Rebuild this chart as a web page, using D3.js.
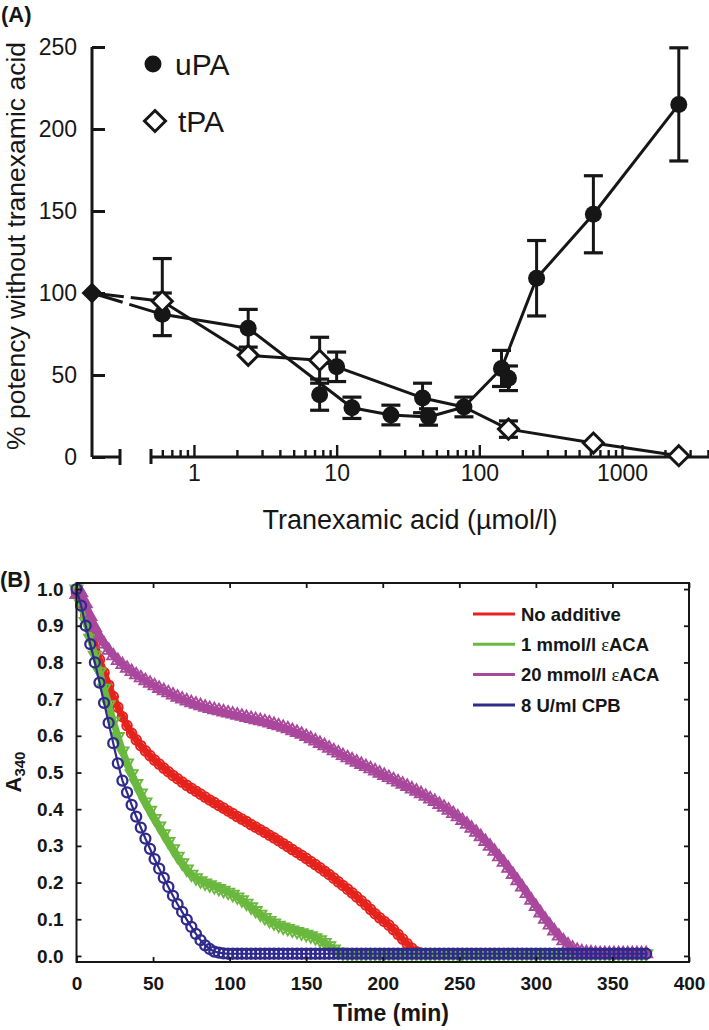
<!DOCTYPE html>
<html><head><meta charset="utf-8">
<script src="https://cdn.jsdelivr.net/npm/d3@7/dist/d3.min.js"></script>
<style>body{margin:0;background:#fff}svg{display:block}</style>
</head><body>
<svg id="c" width="709" height="1030"></svg>
<script>
// ---------------- Panel A data ----------------
const controlConc = 0;          // no tranexamic acid (left stub of broken axis)
const controlVal = 100;
const uPAConc = [0.6, 2.4, 7.6, 10, 12.8, 24, 40, 44, 78, 143, 160, 252, 630, 2500];
const uPAMean = [87, 78.5, 38, 55, 30, 25.6, 36, 24.4, 30.5, 54, 48, 109, 148, 215];
const uPAErr  = [13, 11.5, 9.5, 9, 6.5, 6, 9, 5, 6, 11, 7.5, 23, 23.5, 34.5];
const uPALineConc = [0.6, 2.4, 12.8, 24, 44, 78, 143, 252, 630, 2500];
const uPALineVal  = [87, 78.5, 30, 25.6, 24.4, 30.5, 54, 109, 148, 215];
const tPAConc = [0.6, 2.4, 7.6, 160, 630, 2500];
const tPAMean = [95, 62, 59, 17, 8.5, 0.8];
const tPAErrUp = [26, 0, 14, 5, 0, 0];
const tPAErrDn = [0, 0, 14, 5, 0, 0];
const tPALineConc = [0.6, 2.4, 7.6, 10, 40, 78, 160, 630, 2500];
const tPALineVal  = [95, 62, 59, 55, 36, 30.5, 17, 8.5, 0.8];
const yTicksA = [0, 50, 100, 150, 200, 250];
const xMajorA = [1, 10, 100, 1000];
const xMinorA = [0.6,0.7,0.8,0.9, 2,3,4,5,6,7,8,9, 20,30,40,50,60,70,80,90, 200,300,400,500,600,700,800,900, 2000,3000,4000];

// ---------------- Panel B data ----------------
const timeMin = [0,3,6,9,12,15,18,21,24,27,30,33,36,39,42,45,48,51,54,57,60,63,66,69,72,75,78,81,84,87,90,93,96,99,102,105,108,111,114,117,120,123,126,129,132,135,138,141,144,147,150,153,156,159,162,165,168,171,174,177,180,183,186,189,192,195,198,201,204,207,210,213,216,219,222,225,228,231,234,237,240,243,246,249,252,255,258,261,264,267,270,273,276,279,282,285,288,291,294,297,300,303,306,309,312,315,318,321,324,327,330,333,336,339,342,345,348,351,354,357,360,363,366,369,372];
const noAdditive = [
0.990,0.965,0.930,0.890,0.850,0.808,0.772,0.738,0.707,0.678,
0.652,0.628,0.607,0.589,0.573,0.559,0.546,0.534,0.523,0.512,
0.502,0.492,0.483,0.474,0.465,0.457,0.449,0.441,0.433,0.425,
0.418,0.410,0.403,0.395,0.388,0.380,0.373,0.366,0.358,0.351,
0.344,0.337,0.329,0.322,0.314,0.306,0.298,0.290,0.282,0.274,
0.266,0.257,0.249,0.240,0.231,0.222,0.212,0.202,0.192,0.182,
0.172,0.161,0.150,0.139,0.127,0.115,0.104,0.094,0.084,0.072,
0.059,0.046,0.033,0.021,0.011,0.007,
0.006,0.006,0.006,0.006,0.006,0.006,0.006,0.006,0.006,0.006,
0.006,0.006,0.006,0.006,0.006,0.006,0.006,0.006,0.006,0.006,
0.006,0.006,0.006,0.006,0.006,0.006,0.006,0.006,0.006,0.006,
0.006,0.006,0.006,0.006,0.006,0.006,0.006,0.006,0.006,0.006,
0.006,0.006,0.006,0.006,0.006,0.006,0.006,0.006,0.006];
const eACA1 = [
1.000,0.960,0.912,0.866,0.820,0.775,0.730,0.685,0.640,0.598,
0.559,0.526,0.497,0.470,0.444,0.420,0.397,0.375,0.354,0.333,
0.312,0.292,0.272,0.254,0.237,0.223,0.213,0.205,0.199,0.194,
0.189,0.184,0.179,0.174,0.168,0.161,0.153,0.144,0.134,0.124,
0.114,0.105,0.097,0.090,0.084,0.079,0.075,0.071,0.067,0.063,
0.059,0.055,0.050,0.044,0.037,0.028,0.019,0.011,0.007,
0.006,0.006,0.006,0.006,0.006,0.006,0.006,0.006,0.006,0.006,
0.006,0.006,0.006,0.006,0.006,0.006,0.006,0.006,0.006,0.006,
0.006,0.006,0.006,0.006,0.006,0.006,0.006,0.006,0.006,0.006,
0.006,0.006,0.006,0.006,0.006,0.006,0.006,0.006,0.006,0.006,
0.006,0.006,0.006,0.006,0.006,0.006,0.006,0.006,0.006,0.006,
0.006,0.006,0.006,0.006,0.006,0.006,0.006,0.006,0.006,0.006,
0.006,0.006,0.006,0.006,0.006,0.006];
const eACA20 = [
0.985,0.990,0.960,0.925,0.895,0.870,0.850,0.833,0.818,0.805,
0.794,0.784,0.775,0.766,0.758,0.750,0.743,0.736,0.729,0.723,
0.717,0.711,0.705,0.700,0.695,0.690,0.686,0.682,0.678,0.674,
0.671,0.668,0.665,0.662,0.659,0.656,0.653,0.650,0.647,0.644,
0.641,0.638,0.635,0.631,0.627,0.623,0.619,0.614,0.609,0.604,
0.598,0.592,0.586,0.579,0.573,0.566,0.559,0.553,0.546,0.540,
0.534,0.528,0.522,0.516,0.510,0.504,0.498,0.492,0.486,0.480,
0.474,0.468,0.462,0.455,0.449,0.442,0.435,0.428,0.421,0.413,
0.405,0.397,0.388,0.379,0.369,0.359,0.348,0.337,0.325,0.312,
0.299,0.285,0.270,0.255,0.239,0.222,0.205,0.188,0.170,0.152,
0.135,0.117,0.100,0.084,0.068,0.054,0.041,0.030,0.021,0.015,
0.011,0.009,0.008,0.007,
0.006,0.006,0.006,0.006,0.006,0.006,0.006,0.006,0.006,0.006,0.006];
const cpb8 = [
1.000,0.955,0.900,0.850,0.800,0.745,0.690,0.635,0.580,0.525,
0.478,0.446,0.412,0.380,0.350,0.320,0.292,0.264,0.238,0.213,
0.188,0.164,0.141,0.120,0.099,0.079,0.060,0.043,0.029,0.019,
0.012,0.009,0.007,
0.006,0.006,0.006,0.006,0.006,0.006,0.006,0.006,0.006,0.006,
0.006,0.006,0.006,0.006,0.006,0.006,0.006,0.006,0.006,0.006,
0.006,0.006,0.006,0.006,0.006,0.006,0.006,0.006,0.006,0.006,
0.006,0.006,0.006,0.006,0.006,0.006,0.006,0.006,0.006,0.006,
0.006,0.006,0.006,0.006,0.006,0.006,0.006,0.006,0.006,0.006,
0.006,0.006,0.006,0.006,0.006,0.006,0.006,0.006,0.006,0.006,
0.006,0.006,0.006,0.006,0.006,0.006,0.006,0.006,0.006,0.006,
0.006,0.006,0.006,0.006,0.006,0.006,0.006,0.006,0.006,0.006,
0.006,0.006,0.006,0.006,0.006,0.006,0.006,0.006,0.006,0.006,
0.006,0.006];
const seriesNames = ["No additive", "1 mmol/l \u03b5ACA", "20 mmol/l \u03b5ACA", "8 U/ml CPB"];
const seriesColors = ["#e5231c", "#6ab83f", "#a9489c", "#2f2a8b"];
const timeTicks = [0, 50, 100, 150, 200, 250, 300, 350, 400];
const absTicks = [0, 0.1, 0.2, 0.3, 0.4, 0.5, 0.6, 0.7, 0.8, 0.9, 1.0];

// ---------------- drawing ----------------
const svg = d3.select("#c");
const sans = "'Liberation Sans', Arial, Helvetica, sans-serif";
const ink = "#161616";
const lwA = 3;

// ===== Panel A =====
const gA = svg.append("g").attr("font-family", sans).attr("fill", ink);
const xA = d3.scaleLog().domain([0.5, 4070]).range([151, 709]);
const xStub = d3.scaleLinear().domain([0, 1]).range([92, 120]);
const yA = d3.scaleLinear().domain([0, 250]).range([457, 47]);
const xPos = c => c === 0 ? xStub(0) : xA(c);

gA.append("text").attr("x", 1).attr("y", 22).attr("font-size", 22).attr("font-weight", "bold").text("(A)");

// y axis
gA.append("line").attr("x1", xStub(0)).attr("x2", xStub(0)).attr("y1", yA(0)).attr("y2", yA(250))
  .attr("stroke", ink).attr("stroke-width", lwA);
gA.append("g").attr("transform", `translate(${xStub(0)},0)`)
  .call(d3.axisLeft(yA).tickValues(yTicksA).tickSize(-13).tickPadding(15).tickFormat(d3.format("d")))
  .call(g => g.select(".domain").remove())
  .call(g => g.selectAll("line").attr("stroke", ink).attr("stroke-width", lwA))
  .call(g => g.selectAll("text").attr("font-size", 23).attr("fill", ink).attr("font-family", sans));

// x axis (broken)
gA.append("line").attr("x1", xStub(0)).attr("x2", xStub(1)).attr("y1", yA(0)).attr("y2", yA(0))
  .attr("stroke", ink).attr("stroke-width", lwA);
gA.append("line").attr("x1", xStub(1)).attr("x2", xStub(1)).attr("y1", yA(0) - 8).attr("y2", yA(0) + 8)
  .attr("stroke", ink).attr("stroke-width", lwA);
gA.append("line").attr("x1", xA(0.5)).attr("x2", xA.range()[1]).attr("y1", yA(0)).attr("y2", yA(0))
  .attr("stroke", ink).attr("stroke-width", lwA);
gA.append("line").attr("x1", xA(0.5)).attr("x2", xA(0.5)).attr("y1", yA(0) - 8).attr("y2", yA(0) + 7)
  .attr("stroke", ink).attr("stroke-width", lwA);
gA.append("g").attr("transform", `translate(0,${yA(0)})`)
  .call(d3.axisBottom(xA).tickValues(xMinorA.concat(xMajorA)).tickSize(-7).tickPadding(8)
        .tickFormat(d => xMajorA.includes(d) ? d3.format("d")(d) : ""))
  .call(g => g.select(".domain").remove())
  .call(g => g.selectAll(".tick line").attr("stroke", ink).attr("stroke-width", 2.4)
        .attr("y2", d => xMajorA.includes(d) ? -12 : -7))
  .call(g => g.selectAll("text").attr("font-size", 23).attr("fill", ink).attr("font-family", sans));

// axis titles
gA.append("text").attr("transform", "translate(25,246) rotate(-90)").attr("text-anchor", "middle")
  .attr("font-size", 26.5).text("% potency without tranexamic acid");
gA.append("text").attr("x", 410).attr("y", 529).attr("text-anchor", "middle")
  .attr("font-size", 27).text("Tranexamic acid (\u00b5mol/l)");

// lines
const lineA = d3.line().x(d => xPos(d.c)).y(d => yA(d.v));
const uLine = uPALineConc.map((c, i) => ({c, v: uPALineVal[i]}));
const tLine = tPALineConc.map((c, i) => ({c, v: tPALineVal[i]}));
[uLine, tLine].forEach(L => {
  gA.append("path").attr("d", lineA([{c: controlConc, v: controlVal}, L[0]]))
    .attr("fill", "none").attr("stroke", ink).attr("stroke-width", lwA).attr("stroke-dasharray", "32,7");
  gA.append("path").attr("d", lineA(L)).attr("fill", "none").attr("stroke", ink).attr("stroke-width", lwA)
    .attr("stroke-linejoin", "round");
});

// error bars
function errBar(c, m, lo, hi) {
  const x = xPos(c), cw = 9.5;
  if (hi > m || lo < m) gA.append("line").attr("x1", x).attr("x2", x).attr("y1", yA(lo)).attr("y2", yA(hi))
      .attr("stroke", ink).attr("stroke-width", lwA);
  if (hi > m) gA.append("line").attr("x1", x - cw).attr("x2", x + cw).attr("y1", yA(hi)).attr("y2", yA(hi))
      .attr("stroke", ink).attr("stroke-width", 3.2);
  if (lo < m) gA.append("line").attr("x1", x - cw).attr("x2", x + cw).attr("y1", yA(lo)).attr("y2", yA(lo))
      .attr("stroke", ink).attr("stroke-width", 3.2);
}
uPAConc.forEach((c, i) => errBar(c, uPAMean[i], uPAMean[i] - uPAErr[i], uPAMean[i] + uPAErr[i]));
tPAConc.forEach((c, i) => errBar(c, tPAMean[i], tPAMean[i] - tPAErrDn[i], tPAMean[i] + tPAErrUp[i]));

// markers
const diamond = s => `M0,${-s}L${s},0L0,${s}L${-s},0Z`;
gA.selectAll("circle.u").data(uPAConc).join("circle").attr("class", "u")
  .attr("cx", d => xPos(d)).attr("cy", (d, i) => yA(uPAMean[i])).attr("r", 8.5).attr("fill", ink);
gA.selectAll("path.t").data(tPAConc).join("path").attr("class", "t")
  .attr("transform", (d, i) => `translate(${xPos(d)},${yA(tPAMean[i])})`)
  .attr("d", diamond(10)).attr("fill", "#fff").attr("stroke", ink).attr("stroke-width", lwA);
gA.append("path").attr("transform", `translate(${xPos(controlConc)},${yA(controlVal)})`)
  .attr("d", diamond(10.5)).attr("fill", ink);

// legend A
gA.append("circle").attr("cx", 153).attr("cy", 64).attr("r", 8.5).attr("fill", ink);
gA.append("text").attr("x", 175).attr("y", 75).attr("font-size", 30).text("uPA");
gA.append("path").attr("transform", "translate(155,121)").attr("d", diamond(10.5))
  .attr("fill", "#fff").attr("stroke", ink).attr("stroke-width", lwA);
gA.append("text").attr("x", 178).attr("y", 132).attr("font-size", 30).text("tPA");

// ===== Panel B =====
const gB = svg.append("g").attr("font-family", sans).attr("font-weight", "bold").attr("fill", ink);
const xB = d3.scaleLinear().domain([0, 400]).range([76.5, 689]);
const yB = d3.scaleLinear().domain([-0.0165, 1.0165]).range([962, 583]);

gB.append("text").attr("x", 0).attr("y", 587).attr("font-size", 22).text("(B)");

const seriesVals = [noAdditive, eACA1, eACA20, cpb8];
const markerKind = ["circle", "triDown", "triUp", "circle"];
const lineB = d3.line().x(d => xB(d.t)).y(d => yB(d.v));
seriesVals.forEach((vals, k) => {
  const data = timeMin.map((t, i) => ({t, v: vals[i]})).filter(d => d.v !== undefined);
  const col = seriesColors[k];
  const g = gB.append("g");
  const isNavy = k === 3;
  g.append("path").attr("d", lineB(data)).attr("fill", "none").attr("stroke", col)
    .attr("stroke-width", isNavy ? 2.2 : 7).attr("stroke-linejoin", "round").attr("stroke-linecap", "round");
  if (markerKind[k] === "circle") {
    g.selectAll("circle").data(data).join("circle").attr("cx", d => xB(d.t)).attr("cy", d => yB(d.v))
      .attr("r", isNavy ? 5 : 4.8).attr("fill", "none").attr("stroke", col).attr("stroke-width", isNavy ? 2.3 : 2);
  } else {
    const sym = d3.symbol(d3.symbolTriangle, 64)();
    g.selectAll("path.m").data(data).join("path").attr("class", "m")
      .attr("transform", d => `translate(${xB(d.t)},${yB(d.v)}) rotate(${markerKind[k] === "triDown" ? 180 : 0})`)
      .attr("d", sym).attr("fill", "none").attr("stroke", col).attr("stroke-width", 1.9);
  }
});

// frame
gB.append("rect").attr("x", xB(0)).attr("y", yB(1.0165)).attr("width", xB(400) - xB(0))
  .attr("height", yB(-0.0165) - yB(1.0165)).attr("fill", "none").attr("stroke", ink).attr("stroke-width", 2);
const styleAxis = g => {
  g.select(".domain").remove();
  g.selectAll(".tick line").attr("stroke", ink).attr("stroke-width", 1.8);
  g.selectAll("text").attr("font-size", 19).attr("font-weight", "bold").attr("fill", ink).attr("font-family", sans);
};
gB.append("g").attr("transform", `translate(0,${yB.range()[0]})`)
  .call(d3.axisBottom(xB).tickValues(timeTicks).tickSize(-5).tickPadding(15).tickFormat(d3.format("d"))).call(styleAxis);
gB.append("g").attr("transform", `translate(0,${yB.range()[1]})`)
  .call(d3.axisTop(xB).tickValues(timeTicks).tickSize(-5).tickFormat("")).call(styleAxis);
gB.append("g").attr("transform", `translate(${xB(0)},0)`)
  .call(d3.axisLeft(yB).tickValues(absTicks).tickSize(-5).tickPadding(13).tickFormat(d3.format(".1f"))).call(styleAxis);
gB.append("g").attr("transform", `translate(${xB(400)},0)`)
  .call(d3.axisRight(yB).tickValues(absTicks).tickSize(-5).tickFormat("")).call(styleAxis);

// titles
gB.append("text").attr("x", 391).attr("y", 1021).attr("text-anchor", "middle").attr("font-size", 23).text("Time (min)");
const yt = gB.append("text").attr("transform", "translate(21,772) rotate(-90)").attr("text-anchor", "middle").attr("font-size", 22);
yt.append("tspan").text("A");
yt.append("tspan").attr("font-size", 15).attr("dy", 4).text("340");

// legend B
seriesNames.forEach((n, i) => {
  const y = 614 + i * 30.3;
  gB.append("line").attr("x1", 473).attr("x2", 515).attr("y1", y).attr("y2", y)
    .attr("stroke", seriesColors[i]).attr("stroke-width", 3);
  const t = gB.append("text").attr("x", 521).attr("y", y).attr("dy", "0.36em").attr("font-size", 18.5);
  const parts = n.split("\u03b5");
  t.append("tspan").text(parts[0]);
  if (parts.length > 1) {
    t.append("tspan").attr("font-family", "'Liberation Serif', 'DejaVu Serif', serif").attr("font-weight", "normal").text("\u03b5");
    t.append("tspan").text(parts[1]);
  }
});
</script>
</body></html>
